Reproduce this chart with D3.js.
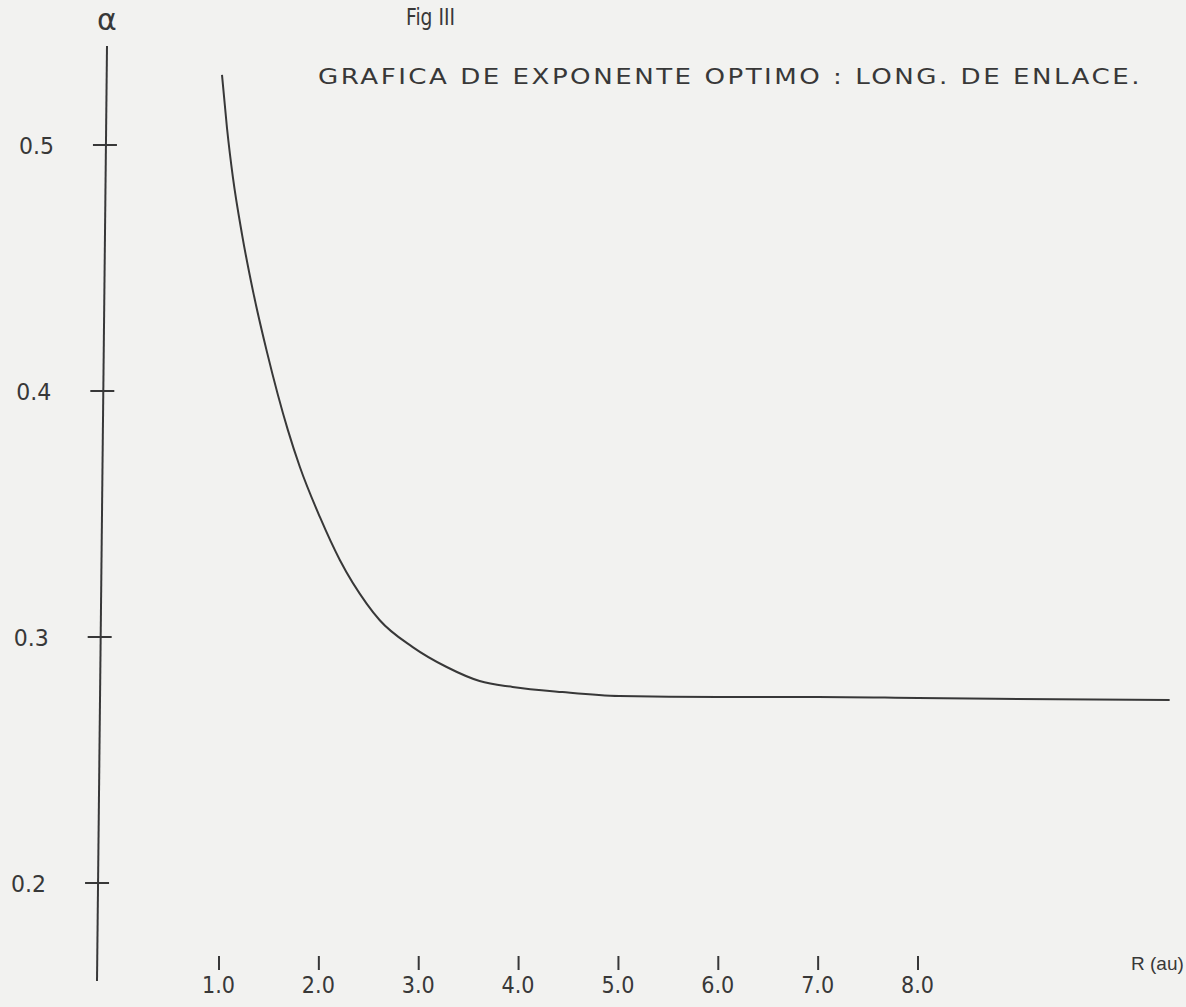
<!DOCTYPE html>
<html>
<head>
<meta charset="utf-8">
<script src="https://cdn.jsdelivr.net/npm/d3@7"></script>
<style>
  html, body { margin: 0; padding: 0; background: #f2f2f0; }
  svg { display: block; }
  text { font-family: "DejaVu Sans", "Liberation Sans", sans-serif; fill: #383838; }
</style>
</head>
<body>
<svg></svg>
<script>
// Set up SVG for D3.
var width = 1186,
    height = 1007;

var svg = d3.select("svg")
    .attr("width", width)
    .attr("height", height);

// Values: bond length R (au) and optimal exponent alpha.
var R_VALUES = [1.03, 1.08, 1.14, 1.23, 1.34, 1.48, 1.69, 1.81, 2.01, 2.21, 2.48, 2.61,
                2.94, 3.28, 3.61, 3.94, 4.44, 5.01, 6.0, 7.0, 8.0, 9.0, 10.52];
var ALPHA_VALUES = [0.5285, 0.5069, 0.4866, 0.4638, 0.4407, 0.4159, 0.3841, 0.3691, 0.3488, 0.3313, 0.3135, 0.3068,
                    0.2959, 0.2878, 0.2821, 0.2797, 0.2776, 0.2760, 0.2756, 0.2756, 0.2752, 0.2748, 0.2744];

var X_TICKS = [1, 2, 3, 4, 5, 6, 7, 8];
var Y_TICKS = [0.2, 0.3, 0.4, 0.5];
var Y_DOMAIN = [0.1602, 0.5402];   // extent of the hand drawn alpha axis

var FIG_LABEL = "Fig III";
var TITLE = "GRAFICA DE EXPONENTE OPTIMO : LONG. DE ENLACE.";
var X_LABEL = "R (au)";
var Y_LABEL = "\u03b1";

var x = d3.scaleLinear().domain([1, 8]).range([219, 918]);
var y = d3.scaleLinear().domain([0.2, 0.5]).range([883, 145]);

// The alpha axis was drawn slightly leaning: its x position depends on y.
var axisX = d3.scaleLinear().domain(Y_DOMAIN).range([97, 107]);

var ink = "#383838";

// y axis line
svg.append("line")
    .attr("x1", axisX(Y_DOMAIN[1])).attr("y1", y(Y_DOMAIN[1]))
    .attr("x2", axisX(Y_DOMAIN[0])).attr("y2", y(Y_DOMAIN[0]))
    .attr("stroke", ink)
    .attr("stroke-width", 2);

var yTick = svg.selectAll("g.ytick")
    .data(Y_TICKS)
  .enter().append("g")
    .attr("class", "ytick");

yTick.append("line")
    .attr("x1", function(d) { return axisX(d) - 13; })
    .attr("x2", function(d) { return axisX(d) + 11; })
    .attr("y1", function(d) { return y(d); })
    .attr("y2", function(d) { return y(d); })
    .attr("stroke", ink)
    .attr("stroke-width", 2);

yTick.append("text")
    .attr("x", function(d) { return axisX(d) - 52; })
    .attr("y", function(d) { return y(d) + 9; })
    .attr("text-anchor", "end")
    .attr("textLength", 35)
    .attr("lengthAdjust", "spacingAndGlyphs")
    .style("font-size", "23px")
    .text(function(d) { return d3.format(".1f")(d); });

svg.append("text")
    .attr("x", axisX(Y_DOMAIN[1]))
    .attr("y", 30)
    .attr("text-anchor", "middle")
    .style("font-size", "30px")
    .text(Y_LABEL);

// x axis: only small tick marks and labels, no line
var xTick = svg.selectAll("g.xtick")
    .data(X_TICKS)
  .enter().append("g")
    .attr("class", "xtick");

xTick.append("line")
    .attr("x1", function(d) { return x(d); })
    .attr("x2", function(d) { return x(d); })
    .attr("y1", 956)
    .attr("y2", 970)
    .attr("stroke", ink)
    .attr("stroke-width", 2);

xTick.append("text")
    .attr("x", function(d) { return x(d) - 17; })
    .attr("y", 993)
    .attr("textLength", 33)
    .attr("lengthAdjust", "spacingAndGlyphs")
    .style("font-size", "23px")
    .text(function(d) { return d3.format(".1f")(d); });

svg.append("text")
    .attr("x", 1131)
    .attr("y", 970)
    .style("font-family", "'Liberation Sans', sans-serif")
    .style("font-size", "19px")
    .text(X_LABEL);

// titles
svg.append("text")
    .attr("x", 406)
    .attr("y", 25)
    .attr("textLength", 49)
    .attr("lengthAdjust", "spacingAndGlyphs")
    .style("font-size", "23px")
    .text(FIG_LABEL);

svg.append("text")
    .attr("x", 318)
    .attr("y", 84)
    .attr("textLength", 824)
    .attr("lengthAdjust", "spacingAndGlyphs")
    .style("font-size", "21px")
    .style("letter-spacing", "2px")
    .text(TITLE);

// the curve
var points = R_VALUES.map(function(r, i) { return [r, ALPHA_VALUES[i]]; });

var line = d3.line()
    .x(function(d) { return x(d[0]); })
    .y(function(d) { return y(d[1]); })
    .curve(d3.curveMonotoneX);

svg.append("path")
    .datum(points)
    .attr("d", line)
    .attr("fill", "none")
    .attr("stroke", ink)
    .attr("stroke-width", 2);
</script>
</body>
</html>
